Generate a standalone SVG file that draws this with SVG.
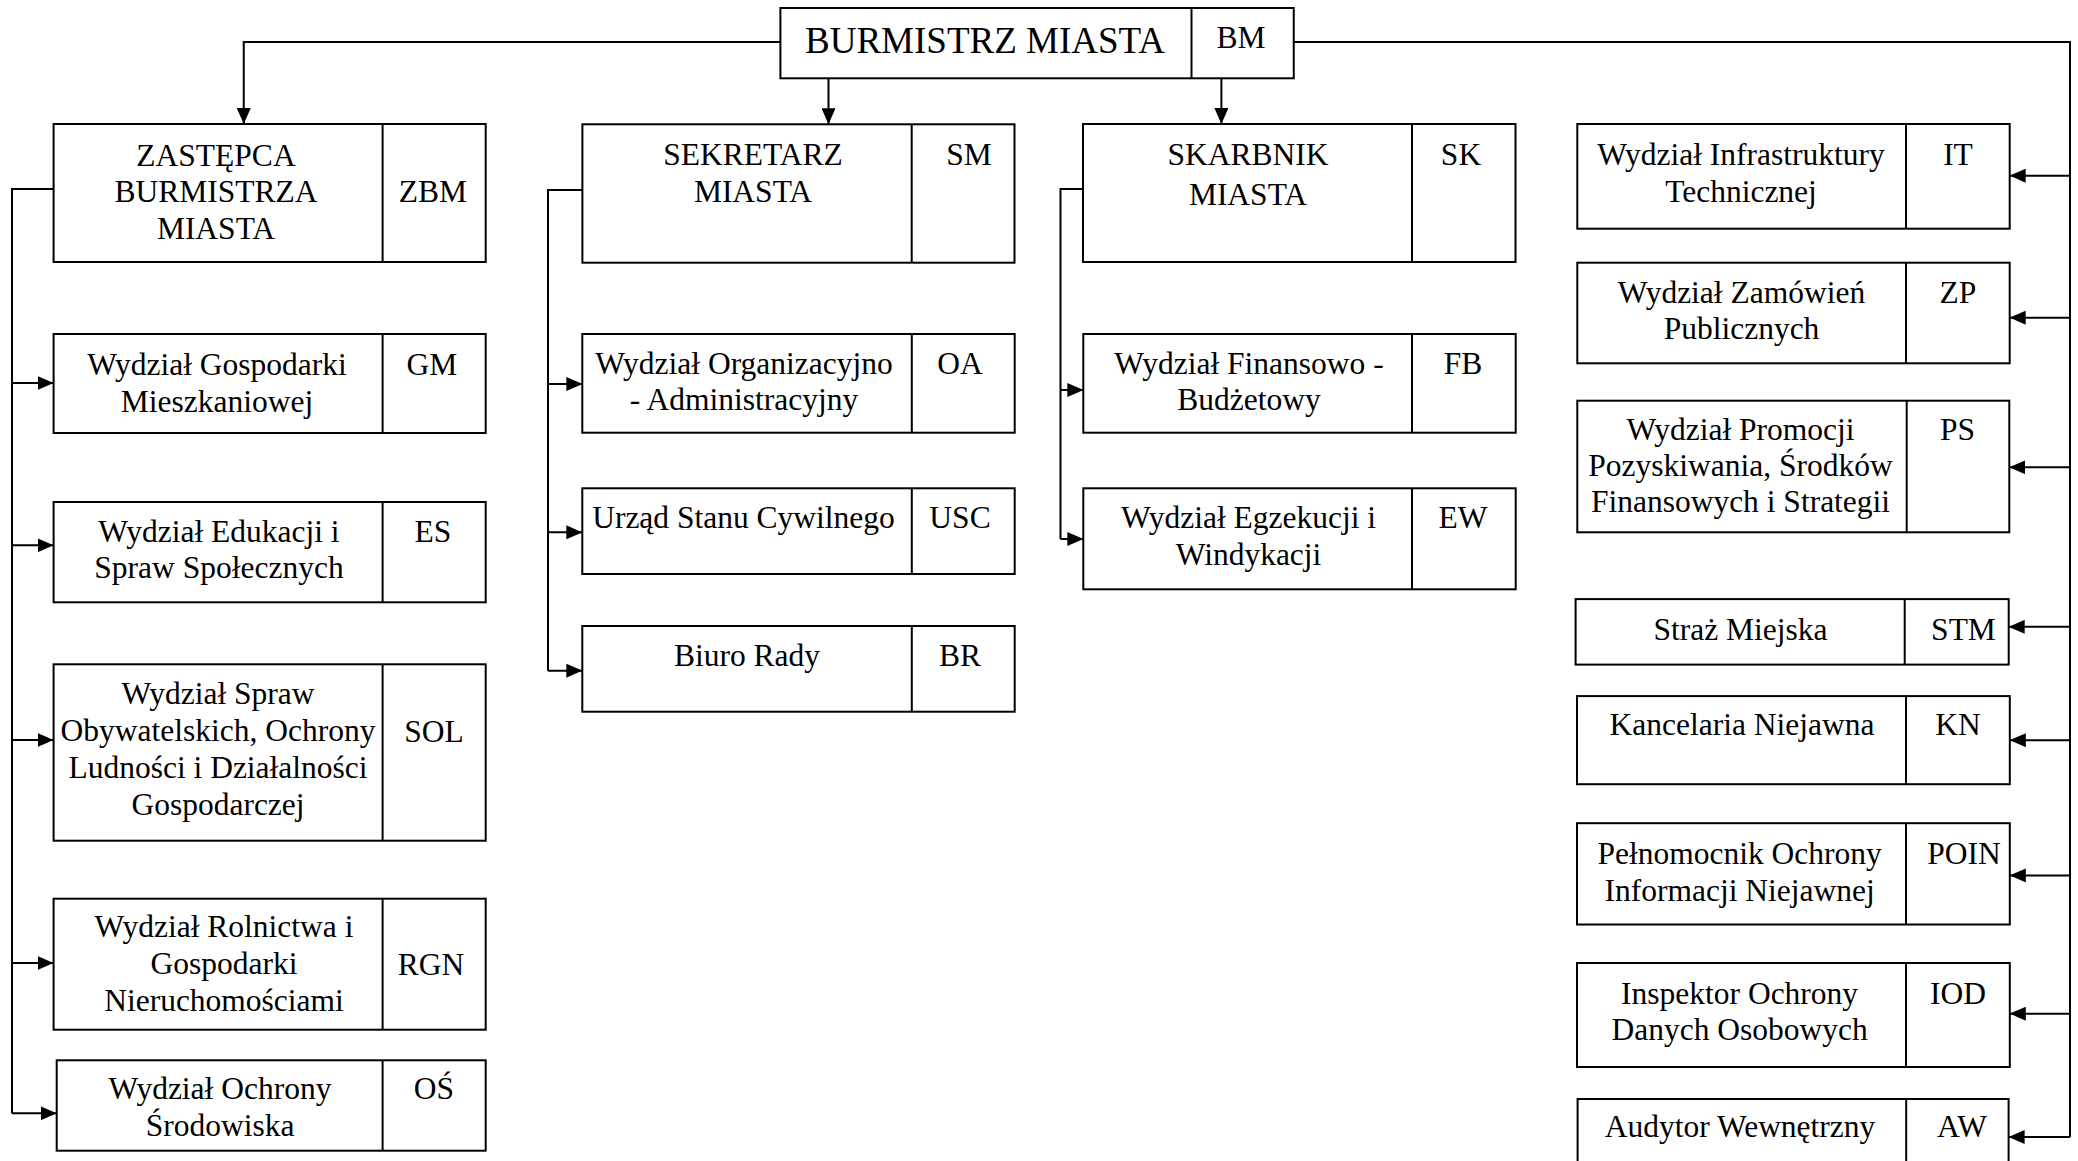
<svg xmlns="http://www.w3.org/2000/svg" width="2078" height="1161" viewBox="0 0 2078 1161">
<style>
  .box{fill:#fff;stroke:#000;stroke-width:2}
  .div{stroke:#000;stroke-width:2}
  .t{font-family:"Liberation Serif","Times New Roman",serif;font-size:31.5px;text-anchor:middle;fill:#000}
  .big{font-size:37px}
  .c{fill:none;stroke:#000;stroke-width:2}
</style>
<defs>
  <marker id="arr" viewBox="0 0 16 14" refX="16" refY="7" markerWidth="16" markerHeight="14" markerUnits="userSpaceOnUse" orient="auto">
    <path d="M0,0 L16,7 L0,14 z" fill="#000"/>
  </marker>
</defs>
<rect width="2078" height="1161" fill="#fff"/>

<g id="connectors">
  <path class="c" d="M780.4,42 H243.75 V124" marker-end="url(#arr)"/>
  <path class="c" d="M1293.75,42 H2070 V1137"/>
  <path class="c" d="M2070,175.7 H2009.7" marker-end="url(#arr)"/>
  <path class="c" d="M2070,317.7 H2009.7" marker-end="url(#arr)"/>
  <path class="c" d="M2070,467.3 H2009.3" marker-end="url(#arr)"/>
  <path class="c" d="M2070,626.8 H2008.7" marker-end="url(#arr)"/>
  <path class="c" d="M2070,740.2 H2009.8" marker-end="url(#arr)"/>
  <path class="c" d="M2070,875.4 H2009.8" marker-end="url(#arr)"/>
  <path class="c" d="M2070,1013.7 H2009.8" marker-end="url(#arr)"/>
  <path class="c" d="M2070,1137 H2008.6" marker-end="url(#arr)"/>
  <path class="c" d="M828.5,78.3 V124.3" marker-end="url(#arr)"/>
  <path class="c" d="M1221.4,78.3 V124" marker-end="url(#arr)"/>
  <path class="c" d="M53.6,189 H12 V1113.3"/>
  <path class="c" d="M12,383 H53.6" marker-end="url(#arr)"/>
  <path class="c" d="M12,545.3 H53.6" marker-end="url(#arr)"/>
  <path class="c" d="M12,740 H53.6" marker-end="url(#arr)"/>
  <path class="c" d="M12,963 H53.6" marker-end="url(#arr)"/>
  <path class="c" d="M12,1113.3 H56.7" marker-end="url(#arr)"/>
  <path class="c" d="M582.4,190 H548 V670.7"/>
  <path class="c" d="M548,384 H582.3" marker-end="url(#arr)"/>
  <path class="c" d="M548,532.3 H582.3" marker-end="url(#arr)"/>
  <path class="c" d="M548,670.7 H582.3" marker-end="url(#arr)"/>
  <path class="c" d="M1083,189 H1060.5 V539"/>
  <path class="c" d="M1060.5,390 H1083.3" marker-end="url(#arr)"/>
  <path class="c" d="M1060.5,539 H1083.3" marker-end="url(#arr)"/>
</g>

<g id="BM">
  <rect class="box" x="780.4" y="8" width="513.35" height="70.3"/>
  <line class="div" x1="1191.5" y1="8" x2="1191.5" y2="78.3"/>
  <text class="t big" x="985" y="53.3">BURMISTRZ MIASTA</text>
  <text class="t" x="1241" y="48.3">BM</text>
</g>

<g id="ZBM">
  <rect class="box" x="53.6" y="124" width="432.1" height="138"/>
  <line class="div" x1="382.6" y1="124" x2="382.6" y2="262"/>
  <text class="t" x="216" y="165.7">ZASTĘPCA</text>
  <text class="t" x="216" y="202.3">BURMISTRZA</text>
  <text class="t" x="216" y="239">MIASTA</text>
  <text class="t" x="433" y="202.3">ZBM</text>
</g>
<g id="GM">
  <rect class="box" x="53.6" y="334" width="432.1" height="99"/>
  <line class="div" x1="382.6" y1="334" x2="382.6" y2="433"/>
  <text class="t" x="217" y="375">Wydział Gospodarki</text>
  <text class="t" x="217" y="411.7">Mieszkaniowej</text>
  <text class="t" x="432" y="375">GM</text>
</g>
<g id="ES">
  <rect class="box" x="53.6" y="502" width="432.1" height="100.3"/>
  <line class="div" x1="382.6" y1="502" x2="382.6" y2="602.3"/>
  <text class="t" x="219" y="541.7">Wydział Edukacji i</text>
  <text class="t" x="219" y="578.3">Spraw Społecznych</text>
  <text class="t" x="433" y="541.7">ES</text>
</g>
<g id="SOL">
  <rect class="box" x="53.6" y="664.3" width="432.1" height="176.4"/>
  <line class="div" x1="382.6" y1="664.3" x2="382.6" y2="840.7"/>
  <text class="t" x="218" y="704">Wydział Spraw</text>
  <text class="t" x="218" y="741">Obywatelskich, Ochrony</text>
  <text class="t" x="218" y="778">Ludności i Działalności</text>
  <text class="t" x="218" y="815">Gospodarczej</text>
  <text class="t" x="434" y="741.7">SOL</text>
</g>
<g id="RGN">
  <rect class="box" x="53.6" y="898.7" width="432.1" height="131"/>
  <line class="div" x1="382.6" y1="898.7" x2="382.6" y2="1029.7"/>
  <text class="t" x="224" y="937.3">Wydział Rolnictwa i</text>
  <text class="t" x="224" y="974.3">Gospodarki</text>
  <text class="t" x="224" y="1011.3">Nieruchomościami</text>
  <text class="t" x="431" y="975">RGN</text>
</g>
<g id="OS">
  <rect class="box" x="56.7" y="1060.3" width="429" height="90.4"/>
  <line class="div" x1="382.6" y1="1060.3" x2="382.6" y2="1150.7"/>
  <text class="t" x="220" y="1099">Wydział Ochrony</text>
  <text class="t" x="220" y="1136">Środowiska</text>
  <text class="t" x="434" y="1099">OŚ</text>
</g>

<g id="SM">
  <rect class="box" x="582.4" y="124.3" width="432.1" height="138.4"/>
  <line class="div" x1="911.7" y1="124.3" x2="911.7" y2="262.7"/>
  <text class="t" x="753" y="165">SEKRETARZ</text>
  <text class="t" x="753" y="201.7">MIASTA</text>
  <text class="t" x="969" y="165">SM</text>
</g>
<g id="OA">
  <rect class="box" x="582.3" y="334" width="432.4" height="98.7"/>
  <line class="div" x1="911.8" y1="334" x2="911.8" y2="432.7"/>
  <text class="t" x="744" y="374">Wydział Organizacyjno</text>
  <text class="t" x="744" y="410">- Administracyjny</text>
  <text class="t" x="960" y="374">OA</text>
</g>
<g id="USC">
  <rect class="box" x="582.3" y="488.3" width="432.4" height="85.7"/>
  <line class="div" x1="911.8" y1="488.3" x2="911.8" y2="574"/>
  <text class="t" x="743.5" y="528.3">Urząd Stanu Cywilnego</text>
  <text class="t" x="960" y="528.3">USC</text>
</g>
<g id="BR">
  <rect class="box" x="582.3" y="626" width="432.4" height="85.7"/>
  <line class="div" x1="911.8" y1="626" x2="911.8" y2="711.7"/>
  <text class="t" x="747" y="665.7">Biuro Rady</text>
  <text class="t" x="960" y="665.7">BR</text>
</g>

<g id="SK">
  <rect class="box" x="1083" y="124" width="432.5" height="138"/>
  <line class="div" x1="1412" y1="124" x2="1412" y2="262"/>
  <text class="t" x="1248" y="165">SKARBNIK</text>
  <text class="t" x="1248" y="205">MIASTA</text>
  <text class="t" x="1461" y="165">SK</text>
</g>
<g id="FB">
  <rect class="box" x="1083.3" y="334" width="432.4" height="98.7"/>
  <line class="div" x1="1412" y1="334" x2="1412" y2="432.7"/>
  <text class="t" x="1249" y="374">Wydział Finansowo -</text>
  <text class="t" x="1249" y="410">Budżetowy</text>
  <text class="t" x="1463" y="374">FB</text>
</g>
<g id="EW">
  <rect class="box" x="1083.3" y="488.3" width="432.4" height="101"/>
  <line class="div" x1="1412" y1="488.3" x2="1412" y2="589.3"/>
  <text class="t" x="1248.5" y="528.3">Wydział Egzekucji i</text>
  <text class="t" x="1248.5" y="565">Windykacji</text>
  <text class="t" x="1463" y="528.3">EW</text>
</g>

<g id="IT">
  <rect class="box" x="1577.3" y="124" width="432.4" height="104.7"/>
  <line class="div" x1="1906" y1="124" x2="1906" y2="228.7"/>
  <text class="t" x="1741" y="165">Wydział Infrastruktury</text>
  <text class="t" x="1741" y="201.7">Technicznej</text>
  <text class="t" x="1958" y="165">IT</text>
</g>
<g id="ZP">
  <rect class="box" x="1577.3" y="262.7" width="432.4" height="100.6"/>
  <line class="div" x1="1906" y1="262.7" x2="1906" y2="363.3"/>
  <text class="t" x="1741.5" y="303.3">Wydział Zamówień</text>
  <text class="t" x="1741.5" y="339.3">Publicznych</text>
  <text class="t" x="1958" y="303.3">ZP</text>
</g>
<g id="PS">
  <rect class="box" x="1577.3" y="400.7" width="432" height="131.6"/>
  <line class="div" x1="1906.7" y1="400.7" x2="1906.7" y2="532.3"/>
  <text class="t" x="1740.5" y="440">Wydział Promocji</text>
  <text class="t" x="1740.5" y="476">Pozyskiwania, Środków</text>
  <text class="t" x="1740.5" y="512">Finansowych i Strategii</text>
  <text class="t" x="1957.5" y="440">PS</text>
</g>
<g id="STM">
  <rect class="box" x="1575.6" y="599.1" width="433.1" height="65.5"/>
  <line class="div" x1="1904.7" y1="599.1" x2="1904.7" y2="664.6"/>
  <text class="t" x="1740.5" y="639.6">Straż Miejska</text>
  <text class="t" x="1963.5" y="639.6">STM</text>
</g>
<g id="KN">
  <rect class="box" x="1577" y="696.1" width="432.8" height="88.1"/>
  <line class="div" x1="1906" y1="696.1" x2="1906" y2="784.2"/>
  <text class="t" x="1742" y="735">Kancelaria Niejawna</text>
  <text class="t" x="1958" y="735">KN</text>
</g>
<g id="POIN">
  <rect class="box" x="1577" y="823.2" width="432.8" height="101.3"/>
  <line class="div" x1="1906" y1="823.2" x2="1906" y2="924.5"/>
  <text class="t" x="1739.6" y="863.7">Pełnomocnik Ochrony</text>
  <text class="t" x="1739.6" y="900.7">Informacji Niejawnej</text>
  <text class="t" x="1964" y="863.7">POIN</text>
</g>
<g id="IOD">
  <rect class="box" x="1577" y="963" width="432.8" height="104"/>
  <line class="div" x1="1906" y1="963" x2="1906" y2="1067"/>
  <text class="t" x="1739.6" y="1004">Inspektor Ochrony</text>
  <text class="t" x="1739.6" y="1040">Danych Osobowych</text>
  <text class="t" x="1958" y="1004">IOD</text>
</g>
<g id="AW">
  <rect class="box" x="1577.6" y="1099" width="431" height="80"/>
  <line class="div" x1="1906.2" y1="1099" x2="1906.2" y2="1179"/>
  <text class="t" x="1740" y="1137">Audytor Wewnętrzny</text>
  <text class="t" x="1962" y="1137">AW</text>
</g>
</svg>
